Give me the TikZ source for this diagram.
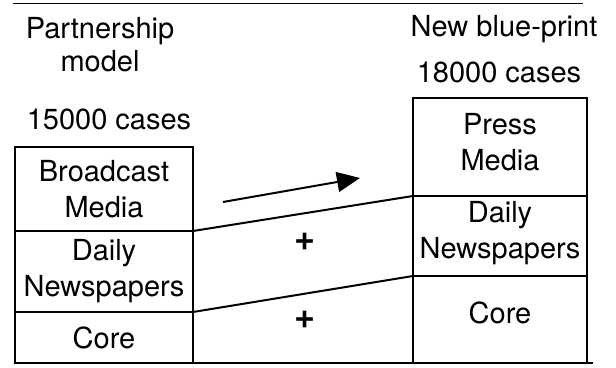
\documentclass[tikz,border=0pt]{standalone}
\usepackage{fontspec}
\setmainfont{TeX Gyre Heros}
\usepackage{tikz}
\usetikzlibrary{positioning,arrows.meta}

\tikzset{
  txt/.style={font=\fontsize{29}{36}\selectfont, align=center, inner sep=0pt},
  part/.style={txt, draw, line width=1.8pt, outer sep=0pt},
  link/.style={line width=2pt},
  plus/.style={font=\fontsize{36}{40}\selectfont\bfseries, inner sep=0pt}
}

\begin{document}
\begin{tikzpicture}[x=1pt, y=1pt]
\useasboundingbox (0, 0) rectangle (616, 367);
\draw [line width=1pt] (13, 363) -- (583, 363);
\draw [line width=1.8pt] (16, 4) -- (593, 4);

\node [txt, anchor=north] (pm) at (100, 350) {Partnership\\[-3pt]model};
\node [txt, anchor=base] (lcases) at (109, 237) {15000 cases};
\node [txt, anchor=base] (nb) at (504, 330) {New blue-print};
\node [txt, anchor=base] (rcases) at (499, 284) {18000 cases};

\node [part, minimum width=178pt, minimum height=84pt, anchor=north west] (lbm) at (15, 220) {Broadcast\\Media};
\node [part, minimum width=178pt, minimum height=81pt, below=0pt of lbm] (ldn) {Daily\\Newspapers};
\node [part, minimum width=178pt, minimum height=51pt, below=0pt of ldn] (lcore) {Core};

\node [part, minimum width=174pt, minimum height=98pt, anchor=north west] (rpm) at (413, 269) {};
\node [part, minimum width=174pt, minimum height=80pt, below=0pt of rpm] (rdn) {};
\node [part, minimum width=174pt, minimum height=87pt, below=0pt of rdn] (rcore) {};
\node [txt] (rpmt) at ([yshift=5pt]rpm.center) {Press\\Media};
\node [txt] (rdnt) at ([yshift=3pt]rdn.center) {Daily\\Newspapers};
\node [txt] (rcoret) at ([yshift=7pt]rcore.center) {Core};

\draw [link] (lbm.south east) -- (rpm.south west);
\draw [link] (ldn.south east) -- (rdn.south west);

\coordinate (a0) at (223, 165);
\coordinate (a1) at (360, 189);
\draw [link, -{Triangle[length=23pt, width=20pt]}] (a0) -- (a1);

\node [plus] (p1) at (305, 125) {+};
\node [plus] (p2) at (305, 47) {+};
\end{tikzpicture}
\end{document}
